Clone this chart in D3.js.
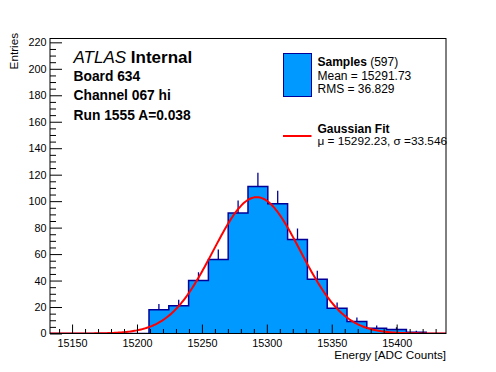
<!DOCTYPE html>
<html>
<head>
<meta charset="utf-8">
<script src="https://cdn.jsdelivr.net/npm/d3@7"></script>
<style>
  html, body { margin: 0; padding: 0; background: #fff; }
  svg { display: block; font-family: "Liberation Sans", Arial, Helvetica, sans-serif; }
</style>
</head>
<body>
<svg id="chart" width="496" height="372"></svg>
<script>
// ---- data ----
const binCounts = [0, 0, 0, 0, 0, 18, 21, 40, 56, 91, 111, 98, 71, 41, 19, 9, 4, 3, 1, 0];
const histRange = [15133, 15438];          // histogram / axis range (20 bins)
const xTickValues = [15150, 15200, 15250, 15300, 15350, 15400];
const yTickValues = [0, 20, 40, 60, 80, 100, 120, 140, 160, 180, 200, 220];
const yMax = 222.9;
const fitMu = 15292.23;
const fitSigma = 33.546;
const fitAmplitude = 103;
const infoLines = ["Board 634", "Channel 067 hi", "Run 1555 A=0.038"];
const sampleCount = 597;
const sampleMean = "15291.73";
const sampleRMS = "36.829";

// ---- layout ----
const W = 496, H = 372;
const L = 50, R = 446, T = 38.5, B = 333.5;
const fillColor = "#0099ff";
const lineColor = "#000099";

const svg = d3.select("#chart");
svg.append("rect").attr("width", W).attr("height", H).attr("fill", "#fff");

const x = d3.scaleLinear().domain(histRange).range([L, R]);
const y = d3.scaleLinear().domain([0, yMax]).range([B, T]);

const nBins = binCounts.length;
const binW = (histRange[1] - histRange[0]) / nBins;
const bins = binCounts.map((c, i) => ({ x0: histRange[0] + i * binW, x1: histRange[0] + (i + 1) * binW, c }));

svg.append("defs").append("clipPath").attr("id", "clip")
  .append("rect").attr("x", L).attr("y", T).attr("width", R - L).attr("height", B - T);

const plot = svg.append("g").attr("clip-path", "url(#clip)");

const stair = [];
bins.forEach(b => { stair.push([b.x0, b.c]); stair.push([b.x1, b.c]); });

// filled histogram as one area (no seams)
plot.append("path")
  .attr("d", d3.area().x(d => x(d[0])).y0(y(0)).y1(d => y(d[1]))(stair))
  .attr("fill", fillColor);

// error bars (upper half visible)
plot.selectAll("line.err").data(bins.filter(b => b.c > 0)).join("line")
  .attr("class", "err")
  .attr("x1", d => x((d.x0 + d.x1) / 2)).attr("x2", d => x((d.x0 + d.x1) / 2))
  .attr("y1", d => y(d.c)).attr("y2", d => y(d.c + Math.sqrt(d.c)))
  .attr("stroke", lineColor).attr("stroke-width", 1.3);

// outline staircase
plot.append("path")
  .attr("d", d3.line().x(d => x(d[0])).y(d => y(d[1]))(stair))
  .attr("fill", "none").attr("stroke", lineColor).attr("stroke-width", 1.5);

// Gaussian fit curve
const fitX = d3.range(histRange[0], histRange[1] + 0.01, (histRange[1] - histRange[0]) / 300);
const gauss = v => fitAmplitude * Math.exp(-0.5 * Math.pow((v - fitMu) / fitSigma, 2));
plot.append("path")
  .attr("d", d3.line().x(v => x(v)).y(v => y(gauss(v)))(fitX))
  .attr("fill", "none").attr("stroke", "#ff0000").attr("stroke-width", 2);

// frame
svg.append("rect").attr("x", L).attr("y", T).attr("width", R - L).attr("height", B - T)
  .attr("fill", "none").attr("stroke", "#000").attr("stroke-width", 1);

// y axis
const yMinor = d3.range(0, yMax, 5).filter(v => v % 20 !== 0);
const yAxisG = svg.append("g").attr("transform", `translate(${L},0)`);
yAxisG.call(d3.axisLeft(y).tickValues(yTickValues).tickSizeInner(-12).tickSizeOuter(0).tickPadding(3.5));
const yMinorG = svg.append("g").attr("transform", `translate(${L},0)`);
yMinorG.call(d3.axisLeft(y).tickValues(yMinor).tickSizeInner(-6).tickSizeOuter(0).tickFormat(""));

// x axis
const xMinor = d3.range(15140, histRange[1], 10).filter(v => v % 50 !== 0);
const xAxisG = svg.append("g").attr("transform", `translate(0,${B})`);
xAxisG.call(d3.axisBottom(x).tickValues(xTickValues).tickSizeInner(-9).tickSizeOuter(0).tickPadding(6).tickFormat(d3.format("d")));
const xMinorG = svg.append("g").attr("transform", `translate(0,${B})`);
xMinorG.call(d3.axisBottom(x).tickValues(xMinor).tickSizeInner(-4.5).tickSizeOuter(0).tickFormat(""));

[yAxisG, yMinorG, xAxisG, xMinorG].forEach(g => {
  g.select(".domain").remove();
  g.selectAll("line").attr("stroke", "#000").attr("stroke-width", 1);
  g.selectAll("text").attr("font-size", 10.8).attr("fill", "#000")
    .attr("font-family", "'Liberation Sans', Arial, sans-serif");
});

// axis titles
svg.append("text").attr("x", R).attr("y", 359).attr("text-anchor", "end")
  .attr("font-size", 11.7).text("Energy [ADC Counts]");
svg.append("text").attr("transform", "translate(17.5,33) rotate(-90)")
  .attr("text-anchor", "end").attr("font-size", 11.7).text("Entries");

// ATLAS label
const atl = svg.append("text").attr("x", 73.5).attr("y", 63.3).attr("font-size", 17);
atl.append("tspan").attr("font-style", "italic").text("ATLAS");
atl.append("tspan").attr("font-weight", "bold").text(" Internal");
infoLines.forEach((t, i) => {
  svg.append("text").attr("x", 73.5).attr("y", 81 + i * 19.3)
    .attr("font-size", 13.8).attr("font-weight", "bold").text(t);
});

// legend
svg.append("rect").attr("x", 283.5).attr("y", 53.5).attr("width", 28).attr("height", 43)
  .attr("fill", fillColor).attr("stroke", lineColor).attr("stroke-width", 1);
const lt1 = svg.append("text").attr("x", 317.5).attr("y", 66).attr("font-size", 12);
lt1.append("tspan").attr("font-weight", "bold").text("Samples");
lt1.append("tspan").text(` (${sampleCount})`);
svg.append("text").attr("x", 317.5).attr("y", 79.5).attr("font-size", 12).text(`Mean = ${sampleMean}`);
svg.append("text").attr("x", 317.5).attr("y", 93.3).attr("font-size", 12).text(`RMS = ${sampleRMS}`);

svg.append("line").attr("x1", 283).attr("x2", 311.5).attr("y1", 136).attr("y2", 136)
  .attr("stroke", "#ff0000").attr("stroke-width", 2);
svg.append("text").attr("x", 317.5).attr("y", 132.5).attr("font-size", 12).attr("font-weight", "bold").text("Gaussian Fit");
svg.append("text").attr("x", 317.5).attr("y", 145.3).attr("font-size", 11.8)
  .text(`\u03bc = ${fitMu.toFixed(2)}, \u03c3 =${fitSigma.toFixed(3)}`);
</script>
</body>
</html>
